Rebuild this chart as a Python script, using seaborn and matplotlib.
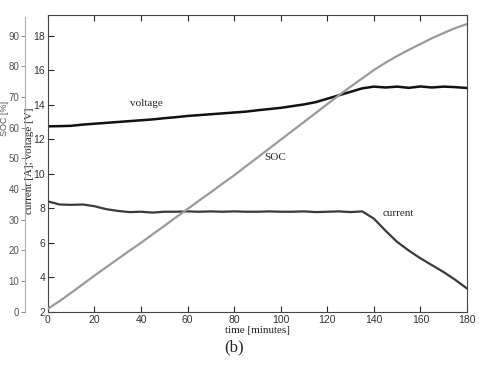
import pandas as pd
import seaborn as sns
import matplotlib.pyplot as plt

time_min = list(range(0, 185, 5))
voltage = [12.75, 12.76, 12.78, 12.85, 12.9, 12.95, 13.0, 13.05, 13.1, 13.15,
           13.22, 13.28, 13.35, 13.4, 13.45, 13.5, 13.55, 13.6, 13.68, 13.75,
           13.82, 13.92, 14.02, 14.15, 14.35, 14.55, 14.75, 14.95, 15.05, 15.0,
           15.05, 14.98, 15.06, 15.0, 15.05, 15.02, 14.97]
current = [8.4, 8.22, 8.2, 8.22, 8.12, 7.95, 7.85, 7.78, 7.8, 7.75,
           7.8, 7.8, 7.82, 7.8, 7.82, 7.8, 7.82, 7.8, 7.8, 7.82,
           7.8, 7.8, 7.82, 7.78, 7.8, 7.82, 7.78, 7.82, 7.4, 6.7,
           6.05, 5.55, 5.1, 4.7, 4.3, 3.85, 3.35]
soc = [1.0, 3.5, 6.2, 9.0, 11.8, 14.5, 17.2, 19.9, 22.5, 25.3,
       28.0, 30.8, 33.5, 36.3, 39.0, 41.8, 44.5, 47.4, 50.3, 53.2,
       56.1, 59.0, 61.9, 64.8, 67.7, 70.6, 73.4, 76.1, 78.8, 81.2,
       83.4, 85.4, 87.3, 89.2, 90.9, 92.5, 93.8]

df = pd.DataFrame({'time': time_min, 'voltage': voltage, 'current': current, 'soc': soc})

sns.set_style('ticks')
plt.rcParams['font.family'] = ['Liberation Sans Narrow', 'Liberation Sans', 'DejaVu Sans']

fig = plt.figure(figsize=(4.79, 3.66), dpi=100)
ax = fig.add_axes([0.100, 0.148, 0.875, 0.811])

sns.lineplot(data=df, x='time', y='voltage', ax=ax, color='#111111', linewidth=1.8)
sns.lineplot(data=df, x='time', y='current', ax=ax, color='#3a3a3a', linewidth=1.6)

ax.set_xlim(0, 180)
ax.set_ylim(2, 19.2)
ax.set_xticks(range(0, 181, 20))
ax.set_yticks(range(2, 19, 2))
ax.tick_params(direction='in', top=True, right=True, length=4, width=0.8,
               labelsize=7.5, labelcolor='#333333', pad=2)
for s in ax.spines.values():
    s.set_color('#444444')
    s.set_linewidth(0.8)

serif = ['Liberation Serif', 'DejaVu Serif']
ax.set_xlabel('time [minutes]', family=serif, fontsize=8, color='#222222', labelpad=1)
ax.set_ylabel('current [A]; voltage [V]', family=serif, fontsize=8, color='#222222')
ax.yaxis.set_label_coords(-0.033, 0.51)

# zweite Achse fuer SOC
ax2 = ax.twinx()
sns.lineplot(data=df, x='time', y='soc', ax=ax2, color='#9a9a9a', linewidth=1.6)
ax2.set_ylim(0, (19.2 - 2) * 90 / 16)
ax2.set_yticks(range(0, 91, 10))
ax2.yaxis.set_ticks_position('left')
ax2.yaxis.set_label_position('left')
ax2.spines['left'].set_position(('outward', 16.5))
ax2.spines['left'].set_color('#b0b0b0')
ax2.spines['left'].set_bounds(0, 96)
ax2.spines['right'].set_visible(False)
ax2.spines['top'].set_visible(False)
ax2.spines['bottom'].set_visible(False)
ax2.tick_params(axis='y', direction='out', length=3, width=0.7, color='#888888',
                labelsize=7, labelcolor='#555555', pad=1)
ax2.set_ylabel('SOC [%]', fontsize=6.5, color='#555555')
ax2.yaxis.set_label_coords(-0.092, 0.65)
ax2.set_xlabel('')

ax.text(42.5, 14.05, 'voltage', family=serif, fontsize=8, ha='center', va='center')
ax.text(97.5, 10.95, 'SOC', family=serif, fontsize=8, ha='center', va='center')
ax.text(150.5, 7.7, 'current', family=serif, fontsize=8, ha='center', va='center')

fig.text(0.489, 0.052, '(b)', family=serif, fontsize=12, ha='center', va='center')

plt.savefig('out.png', dpi=100)
plt.close()
